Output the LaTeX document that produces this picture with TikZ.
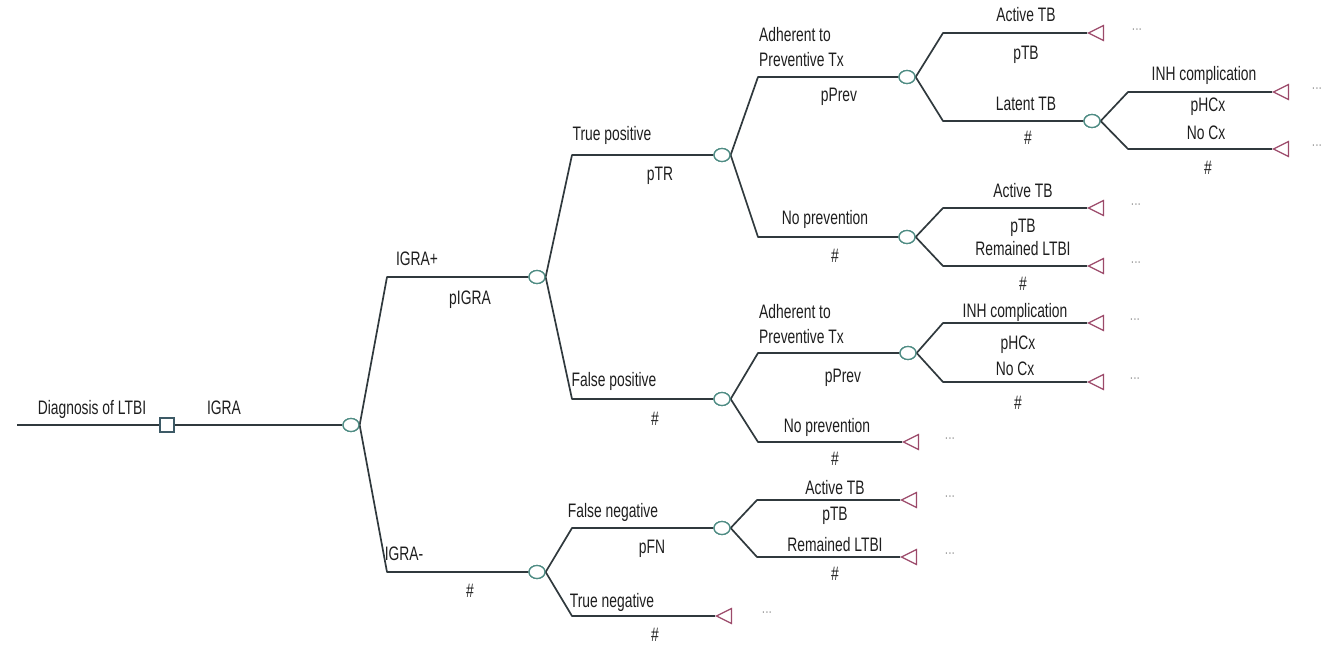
\documentclass[tikz,border=0pt]{standalone}
\usepackage{fontspec}
\setmainfont{Liberation Sans}[FakeStretch=0.71]
\usetikzlibrary{shapes.geometric}
\definecolor{linec}{HTML}{30393D}
\definecolor{chancec}{HTML}{4F8C84}
\definecolor{termc}{HTML}{9C4A6A}
\definecolor{decc}{HTML}{3D5A66}
\definecolor{txtc}{HTML}{1E1E1E}
\tikzset{
  chance/.style={ellipse, draw=chancec, fill=white, line width=1.3pt, minimum width=16pt, minimum height=13pt, inner sep=0pt},
  decision/.style={rectangle, draw=decc, fill=white, line width=1.2pt, minimum size=14pt, inner sep=0pt},
  term/.style={isosceles triangle, shape border rotate=180, isosceles triangle stretches, draw=termc, fill=white, line width=1.2pt, minimum width=15pt, minimum height=15pt, inner sep=0pt, anchor=apex},
  branch/.style={draw=linec, line width=1.7pt, line join=round},
  lbl/.style={text=txtc, font=\fontsize{19.5}{23}\selectfont, inner sep=0pt, text height=14pt, text depth=0pt},
  lbl2/.style={text=txtc, font=\fontsize{19.5}{24.5}\selectfont, inner sep=0pt, align=left, anchor=west},
  dots/.style={text=gray!70, font=\fontsize{17}{18}\selectfont, inner sep=0pt},
}
\begin{document}
\begin{tikzpicture}[x=1pt,y=-1pt]
\useasboundingbox (0,0) rectangle (1327,647);
% nodes
\coordinate (S) at (17,425);
\node[decision] (D) at (167,425) {};
\node[chance] (C0) at (351,425) {};
\node[chance] (C1) at (537,277) {};
\node[chance] (C2) at (537,572) {};
\node[chance] (C3) at (722,155) {};
\node[chance] (C4) at (722,399) {};
\node[chance] (C5) at (907,77) {};
\node[chance] (C6) at (907,237) {};
\node[chance] (C7) at (1092,121) {};
\node[chance] (C8) at (908,353) {};
\node[chance] (C9) at (722,528) {};
\node[term] (T1) at (1087,33) {};
\node[term] (T2) at (1272,92) {};
\node[term] (T3) at (1272,149) {};
\node[term] (T4) at (1087,208) {};
\node[term] (T5) at (1087,266) {};
\node[term] (T6) at (1087,323) {};
\node[term] (T7) at (1087,382) {};
\node[term] (T8) at (902,442) {};
\node[term] (T9) at (900,500) {};
\node[term] (T10) at (900,557) {};
\node[term] (T11) at (715,616) {};
% bend points
\coordinate (b1) at (387,277);
\coordinate (b2) at (387,572);
\coordinate (b3) at (572,155);
\coordinate (b4) at (572,399);
\coordinate (b5) at (758,77);
\coordinate (b6) at (758,237);
\coordinate (b7) at (943,121);
\coordinate (b8) at (758,353);
\coordinate (b9) at (572,528);
\coordinate (e1) at (943,33);
\coordinate (e2) at (1128,92);
\coordinate (e3) at (1128,149);
\coordinate (e4) at (943,208);
\coordinate (e5) at (943,266);
\coordinate (e6) at (943,323);
\coordinate (e7) at (943,382);
\coordinate (e8) at (758,442);
\coordinate (e9) at (757,500);
\coordinate (e10) at (757,557);
\coordinate (e11) at (572,616);
% connectors
\draw[branch] (S) -- (D.west);
\draw[branch] (D.east) -- (C0.west);
\draw[branch] (C0.east) -- (b1) -- (C1.west);
\draw[branch] (C0.east) -- (b2) -- (C2.west);
\draw[branch] (C1.east) -- (b3) -- (C3.west);
\draw[branch] (C1.east) -- (b4) -- (C4.west);
\draw[branch] (C3.east) -- (b5) -- (C5.west);
\draw[branch] (C3.east) -- (b6) -- (C6.west);
\draw[branch] (C5.east) -- (b7) -- (C7.west);
\draw[branch] (C4.east) -- (b8) -- (C8.west);
\draw[branch] (C2.east) -- (b9) -- (C9.west);
\draw[branch] (C5.east) -- (e1) -- (T1.apex);
\draw[branch] (C7.east) -- (e2) -- (T2.apex);
\draw[branch] (C7.east) -- (e3) -- (T3.apex);
\draw[branch] (C6.east) -- (e4) -- (T4.apex);
\draw[branch] (C6.east) -- (e5) -- (T5.apex);
\draw[branch] (C8.east) -- (e6) -- (T6.apex);
\draw[branch] (C8.east) -- (e7) -- (T7.apex);
\draw[branch] (C4.east) -- (e8) -- (T8.apex);
\draw[branch] (C9.east) -- (e9) -- (T9.apex);
\draw[branch] (C9.east) -- (e10) -- (T10.apex);
\draw[branch] (C2.east) -- (e11) -- (T11.apex);
% redraw shapes on top
\foreach \n in {C0,C1,C2,C3,C4,C5,C6,C7,C8,C9}{\node[chance] at (\n) {};}
\node[decision] at (D) {};
% labels
\node[lbl] (l1) at (92,407) {Diagnosis of LTBI};
\node[lbl] (l2) at (224,407) {IGRA};
\node[lbl] (l3) at (417,258) {IGRA+};
\node[lbl] (l4) at (470,297) {pIGRA};
\node[lbl] (l5) at (404,553) {IGRA-};
\node[lbl] (l6) at (470,590) {\#};
\node[lbl] (l7) at (612,134) {True positive};
\node[lbl] (l8) at (660,174) {pTR};
\node[lbl] (l9) at (614,379) {False positive};
\node[lbl] (l10) at (655,418) {\#};
\node[lbl2] (l11) at (759,47) {Adherent to\\Preventive Tx};
\node[lbl] (l12) at (839,95) {pPrev};
\node[lbl] (l13) at (825,218) {No prevention};
\node[lbl] (l14) at (835,255) {\#};
\node[lbl2] (l15) at (759,324) {Adherent to\\Preventive Tx};
\node[lbl] (l16) at (843,375) {pPrev};
\node[lbl] (l17) at (827,425) {No prevention};
\node[lbl] (l18) at (835,458) {\#};
\node[lbl] (l19) at (1026,15) {Active TB};
\node[lbl] (l20) at (1026,53) {pTB};
\node[lbl] (l21) at (1026,104) {Latent TB};
\node[lbl] (l22) at (1028,138) {\#};
\node[lbl] (l23) at (1204,74) {INH complication};
\node[lbl] (l24) at (1208,105) {pHCx};
\node[lbl] (l25) at (1206,133) {No Cx};
\node[lbl] (l26) at (1208,168) {\#};
\node[lbl] (l27) at (1023,190) {Active TB};
\node[lbl] (l28) at (1023,226) {pTB};
\node[lbl] (l29) at (1023,248) {Remained LTBI};
\node[lbl] (l30) at (1023,283) {\#};
\node[lbl] (l31) at (1015,310) {INH complication};
\node[lbl] (l32) at (1018,342) {pHCx};
\node[lbl] (l33) at (1015,368) {No Cx};
\node[lbl] (l34) at (1018,402) {\#};
\node[lbl] (l35) at (613,510) {False negative};
\node[lbl] (l36) at (652,546) {pFN};
\node[lbl] (l37) at (835,487) {Active TB};
\node[lbl] (l38) at (835,513) {pTB};
\node[lbl] (l39) at (835,544) {Remained LTBI};
\node[lbl] (l40) at (835,573) {\#};
\node[lbl] (l41) at (612,600) {True negative};
\node[lbl] (l42) at (655,634) {\#};
% dots
\node[dots] (d1) at (1137,30) {...};
\node[dots] (d2) at (1317,89) {...};
\node[dots] (d3) at (1317,146) {...};
\node[dots] (d4) at (1136,205) {...};
\node[dots] (d5) at (1136,263) {...};
\node[dots] (d6) at (1135,320) {...};
\node[dots] (d7) at (1135,379) {...};
\node[dots] (d8) at (950,439) {...};
\node[dots] (d9) at (950,497) {...};
\node[dots] (d10) at (950,554) {...};
\node[dots] (d11) at (767,613) {...};
\end{tikzpicture}
\end{document}
